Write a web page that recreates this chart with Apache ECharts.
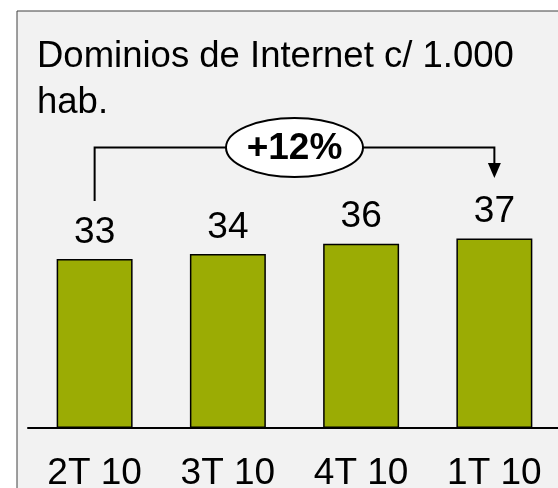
<!DOCTYPE html>
<html>
<head>
<meta charset="utf-8">
<script src="https://cdn.jsdelivr.net/npm/echarts@6/dist/echarts.min.js"></script>
<style>
html,body{margin:0;padding:0;background:#fff;}
#c{width:558px;height:488px;}
</style>
</head>
<body>
<div id="c"></div>
<script>
const categories = ['2T 10', '3T 10', '4T 10', '1T 10'];
const values = [33, 34, 36, 37];
const titleText = 'Dominios de Internet c/ 1.000\nhab.';
const growthLabel = '+12%';

const FONT = '"Liberation Sans", Arial, sans-serif';
const chart = echarts.init(document.getElementById('c'), null, {renderer: 'canvas'});

const panel = {
  type: 'rect', z: -10, silent: true,
  shape: {x: 17, y: 11, width: 700, height: 700},
  style: {fill: '#F2F2F2', stroke: '#404040', lineWidth: 1}
};

const option = {
  backgroundColor: '#ffffff',
  animation: false,
  title: {
    text: titleText,
    left: 32,
    top: 29,
    textStyle: {fontFamily: FONT, fontSize: 36.5, fontWeight: 'normal', color: '#000', lineHeight: 46}
  },
  grid: {left: 28, width: 533, top: 223.2, bottom: 60, containLabel: false, outerBoundsMode: 'none'},
  xAxis: {
    type: 'category',
    data: categories,
    axisLine: {show: true, lineStyle: {color: '#000', width: 2}},
    axisTick: {show: false},
    axisLabel: {fontFamily: FONT, fontSize: 37, color: '#000', margin: 27},
    splitLine: {show: false}
  },
  yAxis: {
    type: 'value', min: 0, max: 40, show: false, splitLine: {show: false}
  },
  series: [{
    type: 'bar',
    data: values,
    barWidth: '57%',
    itemStyle: {color: '#9BAC04', borderColor: '#000', borderWidth: 1.5},
    label: {show: true, position: 'top', distance: 8, fontFamily: FONT, fontSize: 37, color: '#000'},
    z: 3
  }],
  graphic: [panel]
};
chart.setOption(option);

// annotation bracket linked to category positions
const x1 = chart.convertToPixel({xAxisIndex: 0}, categories[0]);
const x4 = chart.convertToPixel({xAxisIndex: 0}, categories[3]);
const cx = (x1 + x4) / 2;
const yLine = 147.5, rx = 68.5, ry = 29.5;
chart.setOption({
  graphic: [
    panel,
    {type: 'polyline', z: 10, shape: {points: [[x1, 201], [x1, yLine], [cx - rx, yLine]]},
     style: {stroke: '#000', lineWidth: 2, fill: null}},
    {type: 'polyline', z: 10, shape: {points: [[cx + rx, yLine], [x4, yLine], [x4, 165]]},
     style: {stroke: '#000', lineWidth: 2, fill: null}},
    {type: 'polygon', z: 10, shape: {points: [[x4 - 6.5, 163], [x4 + 6.5, 163], [x4, 178]]},
     style: {fill: '#000'}},
    {type: 'ellipse', z: 11, shape: {cx: cx, cy: yLine, rx: rx, ry: ry},
     style: {fill: '#fff', stroke: '#000', lineWidth: 2}},
    {type: 'text', z: 12, x: cx, y: yLine + 1,
     style: {text: growthLabel, fontFamily: FONT, fontSize: 37, fontWeight: 'bold', fill: '#000',
             align: 'center', verticalAlign: 'middle'}}
  ]
}, {replaceMerge: ['graphic']});
</script>
</body>
</html>
